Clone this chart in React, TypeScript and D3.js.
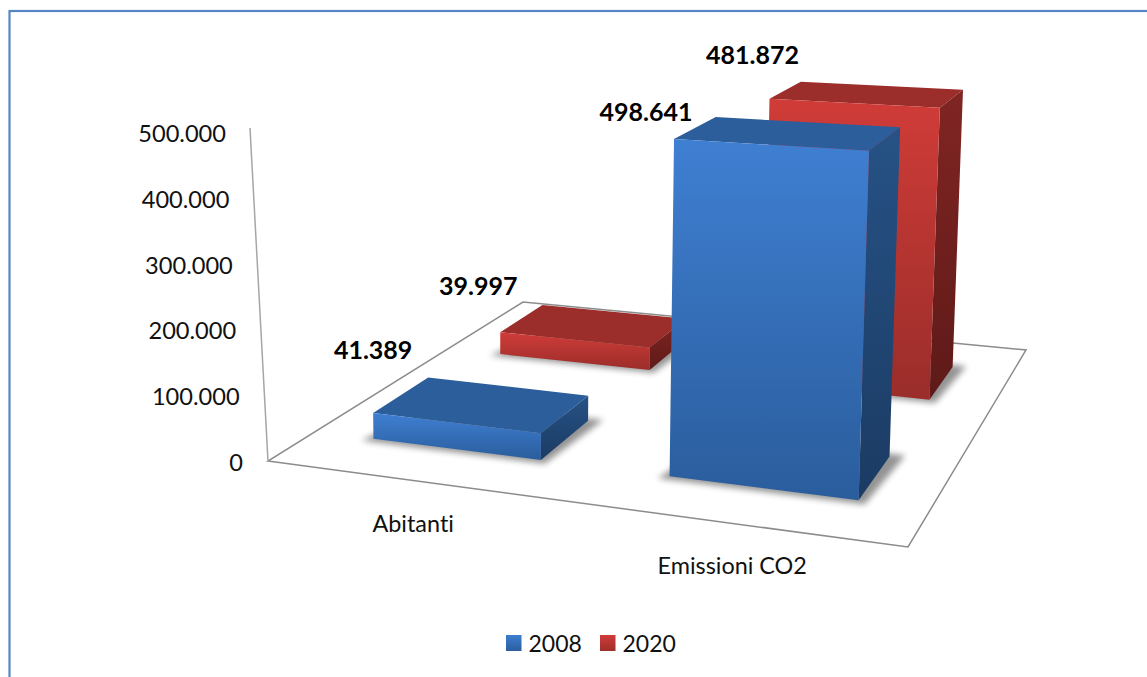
import React from "react";
import * as d3 from "d3";

const categories = ["Abitanti", "Emissioni CO2"];
const seriesNames = ["2008", "2020"];
const values2008 = [41389, 498641];
const values2020 = [39997, 481872];
const tickValues = [0, 100000, 200000, 300000, 400000, 500000];
const seriesValues = [values2008, values2020];

// Fill stops per series: front face top/bottom, roof, side face top/bottom.
const palettes = [
  { front: ["#3F7FD2", "#2A5D9C"], roof: "#2C5E9B", side: ["#265285", "#1B3B63"], legend: ["#3D7DCF", "#2B5E9E"] },
  { front: ["#D03C38", "#9A2D2A"], roof: "#9B2D2B", side: ["#802523", "#5E1A18"], legend: ["#D03C38", "#9F2E2B"] },
];

// Offsets of each value label from its bar's front-left top corner, by series then category.
const labelShift = [
  [[0, -64], [-28, -28]],
  [[-22, -47], [-17, -45]],
];

const fmt = (n: number) => d3.format(",")(n).replace(/,/g, ".");

// Floor quadrilateral corners, in page pixels.
const A: [number, number] = [268, 461];
const B: [number, number] = [908, 547];
const C: [number, number] = [1026, 350];
const D: [number, number] = [523, 302];

// Homography of the unit floor square onto the quadrilateral, plus the vertical column.
function buildCamera() {
  const dx1 = B[0] - C[0], dx2 = D[0] - C[0], sx = A[0] - B[0] + C[0] - D[0];
  const dy1 = B[1] - C[1], dy2 = D[1] - C[1], sy = A[1] - B[1] + C[1] - D[1];
  const det = dx1 * dy2 - dx2 * dy1;
  const g = (sx * dy2 - dx2 * sy) / det;
  const h = (dx1 * sy - sx * dy1) / det;
  const a = B[0] - A[0] + g * B[0], b = D[0] - A[0] + h * D[0];
  const d = B[1] - A[1] + g * B[1], e = D[1] - A[1] + h * D[1];
  const p = -14.4, q = -332.8, r = -0.0278;
  return (u: number, v: number, w: number): [number, number] => {
    const den = g * u + h * v + 1 + r * w;
    return [(a * u + b * v + A[0] + p * w) / den, (d * u + e * v + A[1] + q * w) / den];
  };
}

const project = buildCamera();
const heightScale = d3.scaleLinear().domain([0, 500000]).range([0, 1]);
const uBand = d3.scaleBand<number>().domain([0, 1]).range([0, 1]).paddingInner(0.42).paddingOuter(0.21);
const vBand = d3.scaleBand<number>().domain([0, 1]).range([0, 1]).paddingInner(0.6).paddingOuter(0.3);
const tickY = d3.scaleLinear().domain([0, 500000]).range([462, 133]);
const tickRight = d3.scaleLinear().domain([0, 500000]).range([243, 226]);

const poly = d3.line<[number, number]>();
const closed = (pts: [number, number][]) => poly(pts) + "Z";

function Bar({ cat, ser }: { cat: number; ser: number }) {
  const u0 = uBand(cat)!, u1 = u0 + uBand.bandwidth();
  const v0 = vBand(ser)!, v1 = v0 + vBand.bandwidth();
  const w = heightScale(seriesValues[ser][cat]);
  const id = `${ser}-${cat}`;
  const shadow: [number, number][] = [
    project(u0 - 0.014, v0 - 0.014, 0), project(u1 + 0.012, v0 - 0.014, 0),
    project(u1 + 0.022, v1 + 0.012, 0), project(u0 + 0.022, v1 + 0.012, 0),
  ];
  const frontPts = [project(u0, v0, w), project(u1, v0, w), project(u1, v0, 0), project(u0, v0, 0)];
  const sidePts = [project(u1, v0, w), project(u1, v1, w), project(u1, v1, 0), project(u1, v0, 0)];
  const roofPts = [project(u0, v0, w), project(u1, v0, w), project(u1, v1, w), project(u0, v1, w)];
  return (
    <g>
      <path d={closed(shadow)} fill="#000" opacity={0.42} filter="url(#soft)" />
      <path d={closed(roofPts)} fill={palettes[ser].roof} />
      <path d={closed(sidePts)} fill={`url(#side-${id})`} />
      <path d={closed(frontPts)} fill={`url(#front-${id})`} />
    </g>
  );
}

export default function App() {
  const width = 1147, height = 677;
  // Back to front: the rear series first, then the nearer one; left to right in each.
  const drawOrder: [number, number][] = [[1, 0], [1, 1], [0, 0], [0, 1]];
  const textFont = "Lato, sans-serif";
  const textStyle = { fontVariantLigatures: "none" };
  return (
    <svg width={width} height={height} style={{ position: "absolute", left: 0, top: 0, background: "#fff" }}>
      <defs>
        <filter id="soft" x="-20%" y="-20%" width="140%" height="140%">
          <feGaussianBlur stdDeviation="3.2" />
        </filter>
        {drawOrder.map(([s, c]) => (
          <g key={`${s}${c}`}>
            <linearGradient id={`front-${s}-${c}`} x1="0" y1="0" x2="0" y2="1">
              <stop offset="0" stopColor={palettes[s].front[0]} />
              <stop offset="1" stopColor={palettes[s].front[1]} />
            </linearGradient>
            <linearGradient id={`side-${s}-${c}`} x1="0" y1="0" x2="0" y2="1">
              <stop offset="0" stopColor={palettes[s].side[0]} />
              <stop offset="1" stopColor={palettes[s].side[1]} />
            </linearGradient>
          </g>
        ))}
        {seriesNames.map((_, s) => (
          <linearGradient key={s} id={`legend-${s}`} x1="0" y1="0" x2="0" y2="1">
            <stop offset="0" stopColor={palettes[s].legend[0]} />
            <stop offset="1" stopColor={palettes[s].legend[1]} />
          </linearGradient>
        ))}
      </defs>

      {/* The frame runs on past the right and bottom of the page. */}
      <rect x={9.5} y={11} width={1160} height={700} fill="#fff" stroke="#5585C4" strokeWidth={2.2} />

      <path d={closed([A, B, C, D])} fill="#fff" stroke="#8C8C8C" strokeWidth={1.5} />
      <line x1={A[0]} y1={A[1]} x2={250} y2={128} stroke="#A6A6A6" strokeWidth={1.5} />

      {tickValues.map((t) => (
        <text key={t} x={tickRight(t)} y={tickY(t)} textAnchor="end" dominantBaseline="central"
          fontFamily={textFont} fontSize={23.6} fill="#111" style={textStyle}>{fmt(t)}</text>
      ))}

      {drawOrder.map(([s, c]) => <Bar key={`${s}${c}`} ser={s} cat={c} />)}

      {drawOrder.map(([s, c]) => {
        const u0 = uBand(c)!, v0 = vBand(s)!;
        const [x, y] = project(u0, v0, heightScale(seriesValues[s][c]));
        const [dx, dy] = labelShift[s][c];
        return (
          <text key={`${s}${c}`} x={x + dx} y={y + dy} textAnchor="middle" dominantBaseline="central"
            fontFamily={textFont} fontWeight={700} fontSize={25} fill="#000" style={textStyle}>{fmt(seriesValues[s][c])}</text>
        );
      })}

      {categories.map((name, c) => {
        const [x, y] = project(uBand(c)! + uBand.bandwidth() / 2, 0, 0);
        return (
          <text key={name} x={x} y={y + 42} textAnchor="middle" dominantBaseline="central"
            fontFamily={textFont} fontSize={23.4} fill="#111" style={textStyle}>{name}</text>
        );
      })}

      {seriesNames.map((name, s) => {
        const x = 506 + s * 94;
        return (
          <g key={name}>
            <rect x={x} y={635} width={15.5} height={16} fill={`url(#legend-${s})`} />
            <text x={x + 22.5} y={643} dominantBaseline="central" fontFamily={textFont} fontSize={23} fill="#111" style={textStyle}>{name}</text>
          </g>
        );
      })}
    </svg>
  );
}
